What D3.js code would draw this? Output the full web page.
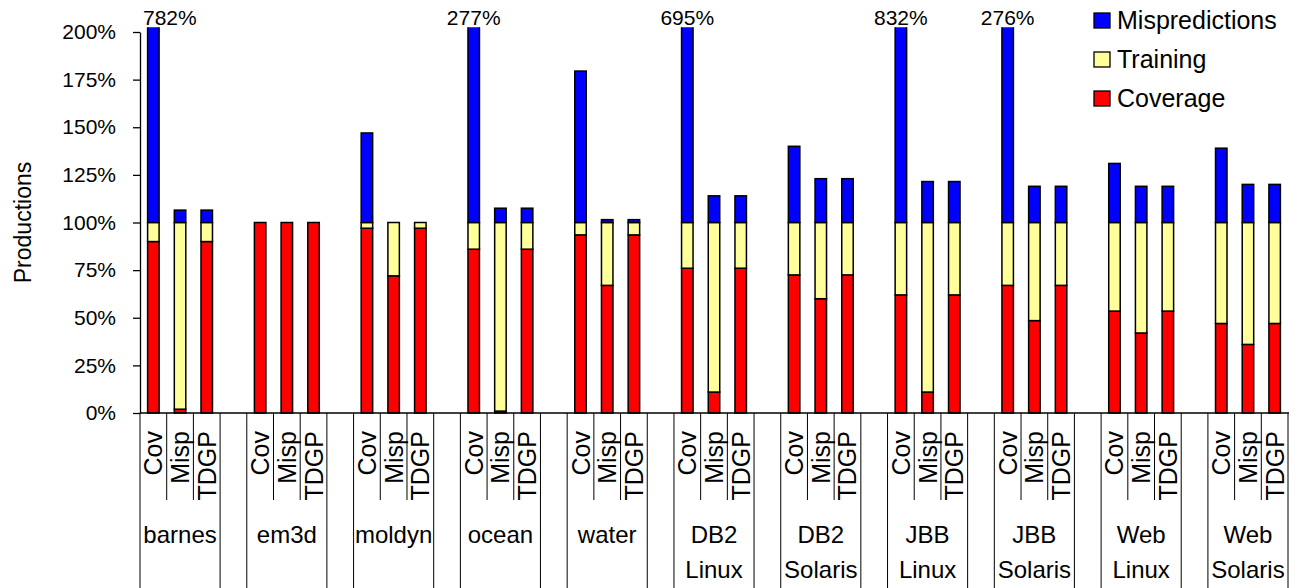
<!DOCTYPE html>
<html>
<head>
<meta charset="utf-8">
<script src="https://cdn.jsdelivr.net/npm/d3@7"></script>
<style>
  body { margin: 0; background: #fff; }
  svg { display: block; font-family: "Liberation Sans", Arial, sans-serif; }
</style>
</head>
<body>
<svg id="chart" width="1297" height="588"></svg>
<script>
// benchmarks (two-word names are drawn on two lines)
const groups = ["barnes", "em3d", "moldyn", "ocean", "water", "DB2 Linux", "DB2 Solaris", "JBB Linux", "JBB Solaris", "Web Linux", "Web Solaris"];
const techniques = ["Cov", "Misp", "TDGP"];

// percent of productions, per group: [Cov, Misp, TDGP]
const coverage = [
  [90, 2, 90], [100, 100, 100], [97, 72, 97], [86, 1, 86], [93.5, 67, 93.5],
  [76, 11, 76], [72.5, 60, 72.5], [62, 11, 62], [67, 48.5, 67], [53.5, 42, 53.5], [47, 36, 47]
];
const training = [
  [10, 98, 10], [0, 0, 0], [3, 28, 3], [14, 99, 14], [6.5, 33, 6.5],
  [24, 89, 24], [27.5, 40, 27.5], [38, 89, 38], [33, 51.5, 33], [46.5, 58, 46.5], [53, 64, 53]
];
const mispredictions = [
  [682, 6.5, 6.5], [0, 0, 0], [47, 0, 0], [177, 7.5, 7.5], [79.5, 1.5, 1.5],
  [595, 14, 14], [40, 23, 23], [732, 21.5, 21.5], [176, 19, 19], [31, 19, 19], [39, 20, 20]
];

const yTicks = [0, 25, 50, 75, 100, 125, 150, 175, 200];
const seriesKeys = ["coverage", "training", "mispredictions"];
const seriesNames = { coverage: "Coverage", training: "Training", mispredictions: "Mispredictions" };
const colors = { coverage: "#ff0000", training: "#ffff99", mispredictions: "#0000ff" };

const svg = d3.select("#chart");
const plotLeft = 140, plotRight = 1288, plotY200 = 32, plotBottom = 413;

// build rows plus empty spacer slots between groups
const rows = [];
const slots = [];
groups.forEach((g, gi) => {
  if (gi > 0) slots.push("gap" + gi);
  techniques.forEach((t, ti) => {
    const key = g + "|" + t;
    slots.push(key);
    rows.push({ key, group: g, tech: t,
      coverage: coverage[gi][ti], training: training[gi][ti], mispredictions: mispredictions[gi][ti] });
  });
});

const x = d3.scaleBand().domain(slots).range([plotLeft, plotRight]).padding(0);
const step = x.step();
const barW = step * 0.43;
const y = d3.scaleLinear().domain([0, 200]).range([plotBottom, plotY200]);
const plotTop = y(202.5);

svg.append("defs").append("clipPath").attr("id", "clip")
  .append("rect").attr("x", plotLeft).attr("y", plotTop).attr("width", plotRight - plotLeft).attr("height", plotBottom - plotTop + 2);

const stacked = d3.stack().keys(seriesKeys)(rows);

const bars = svg.append("g").attr("clip-path", "url(#clip)");
stacked.forEach(layer => {
  bars.append("g").selectAll("rect")
    .data(layer.filter(d => d[1] - d[0] > 0))
    .join("rect")
    .attr("x", d => x(d.data.key) + (step - barW) / 2)
    .attr("width", barW)
    .attr("y", d => y(d[1]))
    .attr("height", d => y(d[0]) - y(d[1]))
    .attr("fill", colors[layer.key])
    .attr("stroke", "#000")
    .attr("stroke-width", 1.5);
});

// value labels for bars that go off the chart
rows.filter(d => d.coverage + d.training + d.mispredictions > 200).forEach(d => {
  const total = d.coverage + d.training + d.mispredictions;
  const cx = x(d.key) + step / 2;
  const t = svg.append("text")
    .attr("y", plotTop - 2)
    .attr("font-size", 21)
    .attr("text-anchor", "middle")
    .text(Math.round(total) + "%");
  const w = t.node().getComputedTextLength();
  t.attr("x", Math.max(cx, plotLeft + 3 + w / 2));
});

// y axis
const yAxis = svg.append("g")
  .attr("transform", `translate(${plotLeft},0)`)
  .call(d3.axisLeft(y).tickValues(yTicks).tickFormat(d => d + "%").tickSize(7).tickPadding(17).tickSizeOuter(0));
yAxis.select(".domain").attr("stroke", "#000").attr("stroke-width", 1.3);
yAxis.selectAll(".tick line").attr("stroke", "#000").attr("stroke-width", 1.3);
yAxis.selectAll(".tick text").attr("font-size", 21).attr("font-family", "Liberation Sans, Arial, sans-serif").attr("fill", "#000");

svg.append("text")
  .attr("transform", `translate(23,${(plotY200 + plotBottom) / 2}) rotate(-90)`)
  .attr("text-anchor", "middle")
  .attr("dominant-baseline", "central")
  .attr("font-size", 23)
  .text("Productions");

// x axis baseline
svg.append("line")
  .attr("x1", plotLeft).attr("x2", plotRight + 1)
  .attr("y1", plotBottom).attr("y2", plotBottom)
  .attr("stroke", "#000").attr("stroke-width", 1.3);

// category separators and labels
const axisG = svg.append("g");
groups.forEach(g => {
  const first = x(g + "|" + techniques[0]);
  const last = x(g + "|" + techniques[techniques.length - 1]) + step;
  [first, last].forEach(px => {
    axisG.append("line").attr("x1", px).attr("x2", px).attr("y1", plotBottom).attr("y2", 588)
      .attr("stroke", "#000").attr("stroke-width", 1);
  });
  techniques.forEach((t, ti) => {
    const sx = x(g + "|" + t);
    if (ti > 0) {
      axisG.append("line").attr("x1", sx).attr("x2", sx).attr("y1", plotBottom).attr("y2", 500)
        .attr("stroke", "#000").attr("stroke-width", 1);
    }
    axisG.append("text")
      .attr("transform", `translate(${sx + step / 2},431) rotate(-90)`)
      .attr("text-anchor", "end")
      .attr("dominant-baseline", "central")
      .attr("font-size", 25)
      .text(t);
  });
  const lines = g.split(" ");
  const gl = axisG.append("text")
    .attr("x", (first + last) / 2)
    .attr("y", 543)
    .attr("text-anchor", "middle")
    .attr("font-size", 24);
  lines.forEach((ln, i) => {
    gl.append("tspan").attr("x", (first + last) / 2).attr("dy", i === 0 ? 0 : 35).text(ln);
  });
});

// legend
const legend = svg.append("g").attr("transform", "translate(1094,0)");
["mispredictions", "training", "coverage"].forEach((k, i) => {
  const ly = 20 + i * 39;
  legend.append("rect").attr("x", 0).attr("y", ly - 7).attr("width", 16).attr("height", 15)
    .attr("fill", colors[k]).attr("stroke", "#000").attr("stroke-width", 1.3);
  legend.append("text").attr("x", 23).attr("y", ly).attr("dominant-baseline", "central")
    .attr("font-size", 25).text(seriesNames[k]);
});
</script>
</body>
</html>
